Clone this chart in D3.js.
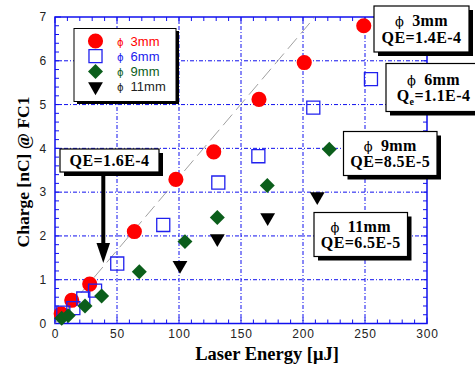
<!DOCTYPE html>
<html>
<head>
<meta charset="utf-8">
<script src="https://cdn.jsdelivr.net/npm/d3@7"></script>
<style>
  html, body { margin: 0; padding: 0; background: #fff; }
  svg { display: block; }
</style>
</head>
<body>
<svg id="chart" width="475" height="366"></svg>
<script>
// Charge collected at FC1 versus laser energy, for four spot diameters
const energy3mm = [5, 13.5, 28, 64, 97.5, 128, 164.5, 201, 249];
const charge3mm = [0.22, 0.53, 0.9, 2.1, 3.29, 3.92, 5.12, 5.96, 6.8];
const energy6mm = [6.7, 14.8, 22.8, 32.3, 50.2, 87.3, 131.7, 164, 208.3, 254.8];
const charge6mm = [0.25, 0.35, 0.57, 0.75, 1.37, 2.25, 3.22, 3.82, 4.93, 5.58];
const energy9mm = [5.4, 10.7, 24.2, 37.6, 68, 104.8, 130.9, 171.2, 221.2];
const charge9mm = [0.12, 0.18, 0.4, 0.63, 1.18, 1.87, 2.42, 3.15, 3.98];
const energy11mm = [100.8, 130.9, 171.5, 211.5];
const charge11mm = [1.33, 1.94, 2.42, 2.9];

// QE = 1.6E-4 reference line (charge per unit energy)
const refSlope = 0.0334;

const seriesNames = ["3mm", "6mm", "9mm", "11mm"];
const xTicks = [0, 50, 100, 150, 200, 250, 300];
const yTicks = [0, 1, 2, 3, 4, 5, 6, 7];

const svg = d3.select("#chart");
const pLeft = 55, pRight = 427, pTop = 17, pBottom = 323.5;

const x = d3.scaleLinear().domain([0, 300]).range([pLeft, pRight]);
const y = d3.scaleLinear().domain([0, 7]).range([pBottom, pTop]);

const blue = "#1010ee";
const colors = { "3mm": "#ff0000", "6mm": "#2020ee", "9mm": "#0b5e1b", "11mm": "#000000" };

// grid
const grid = svg.append("g");
grid.selectAll("line.gx").data(xTicks.slice(1, -1)).join("line")
  .attr("x1", d => x(d)).attr("x2", d => x(d)).attr("y1", pTop).attr("y2", pBottom)
  .attr("stroke", blue).attr("stroke-width", 1).attr("stroke-dasharray", "4,2,1,2");
grid.selectAll("line.gy").data(yTicks.slice(1, -1)).join("line")
  .attr("y1", d => y(d)).attr("y2", d => y(d)).attr("x1", pLeft).attr("x2", pRight)
  .attr("stroke", blue).attr("stroke-width", 1).attr("stroke-dasharray", "4,2,1,2");

// inside ticks on all four sides
const tickG = svg.append("g").attr("stroke", blue).attr("stroke-width", 1);
const xMinor = d3.range(0, 301, 10);
const yMinor = d3.range(0, 7.01, 0.2);
xMinor.forEach(v => {
  const len = v % 50 === 0 ? 6 : 4;
  tickG.append("line").attr("x1", x(v)).attr("x2", x(v)).attr("y1", pBottom).attr("y2", pBottom - len);
  tickG.append("line").attr("x1", x(v)).attr("x2", x(v)).attr("y1", pTop).attr("y2", pTop + len);
});
yMinor.forEach(v => {
  const major = Math.abs(v - Math.round(v)) < 1e-6;
  const len = major ? 6 : 4;
  tickG.append("line").attr("y1", y(v)).attr("y2", y(v)).attr("x1", pLeft).attr("x2", pLeft + len);
  tickG.append("line").attr("y1", y(v)).attr("y2", y(v)).attr("x1", pRight).attr("x2", pRight - len);
});

// frame
svg.append("rect").attr("x", pLeft).attr("y", pTop).attr("width", pRight - pLeft).attr("height", pBottom - pTop)
  .attr("fill", "none").attr("stroke", blue).attr("stroke-width", 1.5);

// tick labels via d3 axes (domain line removed)
const xAxis = svg.append("g").attr("transform", `translate(0,${pBottom})`)
  .call(d3.axisBottom(x).tickValues(xTicks).tickFormat(d3.format("d")).tickSize(0).tickPadding(6));
const yAxis = svg.append("g").attr("transform", `translate(${pLeft},0)`)
  .call(d3.axisLeft(y).tickValues(yTicks).tickFormat(d3.format("d")).tickSize(0).tickPadding(8));
[xAxis, yAxis].forEach(a => {
  a.select(".domain").remove();
  a.selectAll("text").attr("font-family", "Liberation Sans, Arial, sans-serif")
    .attr("font-size", 12).attr("fill", "#222").style("letter-spacing", "0.8px");
});

// reference line
svg.append("line")
  .attr("x1", x(0)).attr("y1", y(0)).attr("x2", x(7 / refSlope)).attr("y2", y(7))
  .attr("stroke", "#888").attr("stroke-width", 0.8).attr("stroke-dasharray", "14,6");

// markers
const circle = d3.symbol().type(d3.symbolCircle).size(180);
const square = d3.symbol().type(d3.symbolSquare).size(170);
const diamond = d3.symbol().type(d3.symbolSquare).size(112);
const triangle = d3.symbol().type(d3.symbolTriangle).size(95);
const rotations = { "3mm": 0, "6mm": 0, "9mm": 45, "11mm": 180 };

function plot(ex, qs, sym, name, hollow) {
  svg.append("g").selectAll("path").data(ex.map((e, i) => [e, qs[i]])).join("path")
    .attr("d", sym)
    .attr("transform", d => `translate(${x(d[0])},${y(d[1])}) rotate(${rotations[name]})`)
    .attr("fill", hollow ? "none" : colors[name])
    .attr("stroke", hollow ? colors[name] : "none")
    .attr("stroke-width", hollow ? 1.3 : 0);
}
plot(energy3mm, charge3mm, circle, "3mm", false);
plot(energy6mm, charge6mm, square, "6mm", true);
plot(energy9mm, charge9mm, diamond, "9mm", false);
plot(energy11mm, charge11mm, triangle, "11mm", false);

// legend
const lg = svg.append("g");
lg.append("rect").attr("x", 77).attr("y", 31).attr("width", 102).attr("height", 73).attr("fill", "#000");
lg.append("rect").attr("x", 74).attr("y", 28.5).attr("width", 102).attr("height", 73)
  .attr("fill", "#fff").attr("stroke", "#000").attr("stroke-width", 1);
const legSyms = [circle, square, diamond, triangle];
seriesNames.forEach((n, i) => {
  const yy = 41 + i * 15.2;
  lg.append("path").attr("d", legSyms[i])
    .attr("transform", `translate(95.5,${yy}) rotate(${rotations[n]})`)
    .attr("fill", i === 1 ? "none" : colors[n])
    .attr("stroke", i === 1 ? colors[n] : "none").attr("stroke-width", 1.3);
  const t = lg.append("text").attr("x", 117).attr("y", yy + 4.5)
    .attr("font-family", "Liberation Sans, Arial, sans-serif").attr("fill", colors[n] === "#000000" ? "#222" : colors[n]);
  t.append("tspan").attr("font-size", 10).attr("font-family", "DejaVu Sans, sans-serif").text("ϕ");
  t.append("tspan").attr("dx", 7).attr("font-size", 13).text(n);
});

// annotation boxes
const serif = "Liberation Serif, Times New Roman, serif";
function box(bx, by, bw, bh, lines) {
  const g = svg.append("g");
  g.append("rect").attr("x", bx + 4).attr("y", by + 4).attr("width", bw).attr("height", bh).attr("fill", "#000");
  g.append("rect").attr("x", bx).attr("y", by).attr("width", bw).attr("height", bh)
    .attr("fill", "#fff").attr("stroke", "#000").attr("stroke-width", 1.2);
  const n = lines.length;
  lines.forEach((ln, i) => {
    const cy = by + bh / 2 + (i - (n - 1) / 2) * 16.5;
    const t = g.append("text").attr("x", bx + bw / 2).attr("y", cy + 5.5)
      .attr("text-anchor", "middle").attr("font-family", serif).attr("font-weight", "bold")
      .attr("font-size", 16).style("letter-spacing", "0.4px").attr("fill", "#000");
    ln(t);
  });
}
const phiLine = label => t => {
  t.append("tspan").attr("font-family", "DejaVu Serif, serif").attr("font-weight", "normal").attr("font-size", 13).text("ϕ");
  t.append("tspan").attr("dx", 8).text(label);
};
const plain = s => t => t.text(s);
box(374, 6, 95, 46, [phiLine("3mm"), plain("QE=1.4E-4")]);
box(386, 63.5, 95, 48, [phiLine("6mm"), t => {
  t.append("tspan").text("Q");
  t.append("tspan").attr("font-size", 10).attr("dy", 4).text("e");
  t.append("tspan").attr("dy", -4).text("=1.1E-4");
}]);
box(343.5, 131.5, 93.5, 44, [phiLine("9mm"), plain("QE=8.5E-5")]);
box(314, 212.5, 93.5, 44, [phiLine("11mm"), plain("QE=6.5E-5")]);
box(60, 149, 99, 23, [plain("QE=1.6E-4")]);

// arrow toward the reference line
svg.append("line").attr("x1", 103.3).attr("y1", 176).attr("x2", 103.3).attr("y2", 246)
  .attr("stroke", "#000").attr("stroke-width", 4);
svg.append("path").attr("d", d3.line()([[96.5, 243], [110, 243], [103.3, 263]])).attr("fill", "#000");

// axis titles
svg.append("text").attr("x", 267).attr("y", 360).attr("text-anchor", "middle")
  .attr("font-family", serif).attr("font-weight", "bold").attr("font-size", 18.5).text("Laser Energy [μJ]");
svg.append("text").attr("transform", "translate(29,172) rotate(-90)").attr("text-anchor", "middle")
  .attr("font-family", serif).attr("font-weight", "bold").attr("font-size", 17.5).text("Charge [nC] @ FC1");
</script>
</body>
</html>
